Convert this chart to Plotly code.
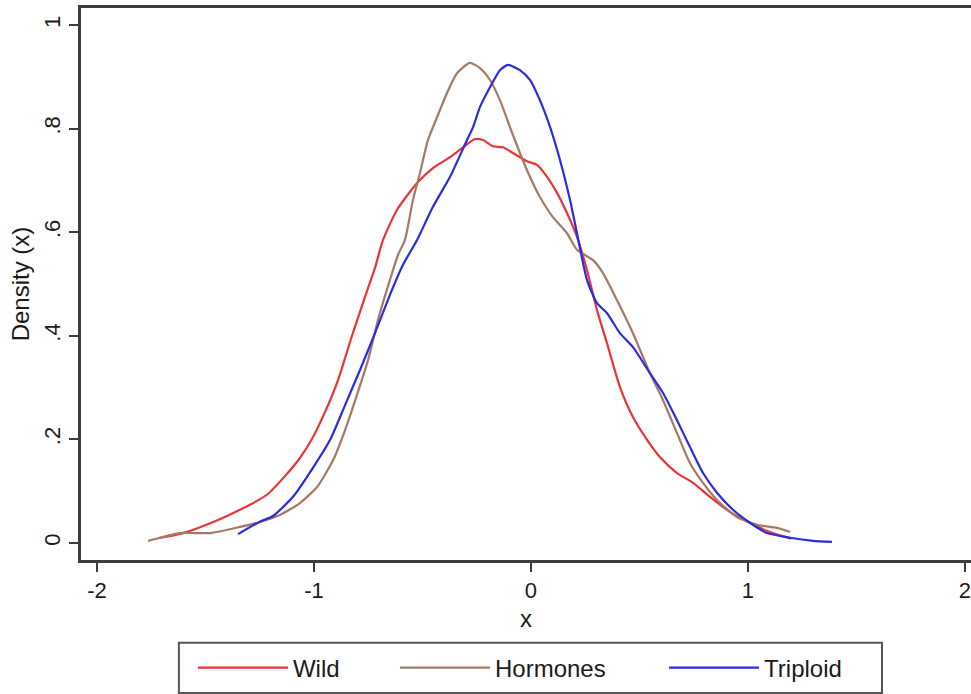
import plotly.graph_objects as go

# ---- data ----
wild_x = [-1.710, -1.604, -1.456, -1.341, -1.217, -1.134, -1.065, -1.009, -0.949, -0.889,
          -0.825, -0.765, -0.719, -0.682, -0.618, -0.525, -0.452, -0.373, -0.313, -0.258,
          -0.221, -0.175, -0.129, -0.083, -0.018, 0.028, 0.074, 0.120, 0.166, 0.212,
          0.258, 0.304, 0.350, 0.410, 0.470, 0.535, 0.594, 0.673, 0.747, 0.825,
          0.917, 1.009, 1.101, 1.198]
wild_y = [0.010, 0.019, 0.042, 0.064, 0.093, 0.129, 0.164, 0.201, 0.253, 0.315,
          0.400, 0.475, 0.531, 0.585, 0.643, 0.695, 0.724, 0.745, 0.764, 0.780,
          0.778, 0.766, 0.764, 0.753, 0.737, 0.730, 0.707, 0.676, 0.637, 0.591,
          0.527, 0.450, 0.386, 0.301, 0.243, 0.199, 0.166, 0.135, 0.116, 0.089,
          0.060, 0.039, 0.021, 0.008]

horm_x = [-1.765, -1.618, -1.479, -1.341, -1.263, -1.157, -1.065, -0.986, -0.912, -0.857,
          -0.802, -0.751, -0.705, -0.650, -0.613, -0.581, -0.544, -0.512, -0.475, -0.433,
          -0.387, -0.341, -0.281, -0.235, -0.189, -0.143, -0.097, -0.051, -0.005, 0.041,
          0.101, 0.166, 0.212, 0.286, 0.332, 0.396, 0.470, 0.548, 0.608, 0.673,
          0.733, 0.793, 0.857, 0.949, 1.041, 1.134, 1.194]
horm_y = [0.004, 0.019, 0.019, 0.031, 0.039, 0.054, 0.077, 0.108, 0.160, 0.218,
          0.286, 0.353, 0.431, 0.508, 0.556, 0.585, 0.662, 0.714, 0.778, 0.822,
          0.869, 0.907, 0.927, 0.917, 0.894, 0.855, 0.803, 0.753, 0.707, 0.668,
          0.629, 0.598, 0.566, 0.546, 0.521, 0.469, 0.405, 0.328, 0.276, 0.212,
          0.154, 0.116, 0.083, 0.050, 0.035, 0.029, 0.021]

trip_x = [-1.350, -1.249, -1.189, -1.097, -1.005, -0.926, -0.857, -0.788, -0.719, -0.650,
          -0.590, -0.525, -0.452, -0.373, -0.295, -0.267, -0.235, -0.189, -0.143, -0.106,
          -0.051, -0.005, 0.041, 0.088, 0.134, 0.180, 0.212, 0.258, 0.304, 0.350,
          0.410, 0.470, 0.548, 0.608, 0.673, 0.733, 0.793, 0.857, 0.931, 1.009,
          1.088, 1.194, 1.300, 1.387]
trip_y = [0.017, 0.041, 0.052, 0.089, 0.145, 0.199, 0.266, 0.334, 0.405, 0.479,
          0.537, 0.585, 0.649, 0.707, 0.778, 0.803, 0.842, 0.880, 0.913, 0.923,
          0.913, 0.894, 0.855, 0.803, 0.739, 0.662, 0.598, 0.508, 0.463, 0.444,
          0.405, 0.378, 0.328, 0.290, 0.237, 0.185, 0.135, 0.097, 0.064, 0.039,
          0.019, 0.010, 0.004, 0.002]

series_names = ["Wild", "Hormones", "Triploid"]
series_colors = ["#ea3438", "#a47a62", "#2b2be0"]

x_tickvals = [-2, -1, 0, 1, 2]
x_ticktext = ["-2", "-1", "0", "1", "2"]
y_tickvals = [0, 0.2, 0.4, 0.6, 0.8, 1.0]
y_ticktext = ["0", ".2", ".4", ".6", ".8", "1"]

FONT = "Liberation Sans, Arial, Helvetica, sans-serif"
AXC = "#3c3c3c"

legend_ids = ["legend", "legend2", "legend3"]
legend_x = [0.1258, 0.3528, 0.6551]

fig = go.Figure()
for xs, ys, name, col, lg in zip([wild_x, horm_x, trip_x], [wild_y, horm_y, trip_y],
                                 series_names, series_colors, legend_ids):
    fig.add_trace(go.Scatter(x=xs, y=ys, mode="lines", name=name, legend=lg,
                             line=dict(color=col, width=2.2, shape="spline", smoothing=0.6)))

leg_common = dict(orientation="h", xanchor="left", y=-0.155, yanchor="top",
                  borderwidth=0, bgcolor="rgba(0,0,0,0)",
                  font=dict(size=24, family=FONT, color="#1a1a1a"), itemwidth=90)

fig.update_layout(
    width=971, height=694,
    margin=dict(l=81, r=0, t=8, b=134),
    paper_bgcolor="white", plot_bgcolor="white",
    font=dict(family=FONT, color="#1a1a1a"),
    showlegend=True,
    legend=dict(x=legend_x[0], **leg_common),
    legend2=dict(x=legend_x[1], **leg_common),
    legend3=dict(x=legend_x[2], **leg_common),
    shapes=[dict(type="rect", xref="paper", yref="paper",
                 x0=0.110, x1=0.900, y0=-0.241, y1=-0.150,
                 line=dict(color="#555555", width=2), fillcolor="rgba(0,0,0,0)", layer="below")],
    xaxis=dict(range=[-2.074, 2.028], tickvals=x_tickvals, ticktext=x_ticktext,
               showgrid=False, zeroline=False, showline=True, linecolor=AXC, linewidth=3,
               mirror=True, ticks="outside", ticklen=9, tickwidth=2, tickcolor=AXC,
               ticklabeloverflow="allow",
               tickfont=dict(size=22, family=FONT, color="#1a1a1a"),
               title=dict(text="x", font=dict(size=24, family=FONT), standoff=8)),
    yaxis=dict(range=[-0.033, 1.033], tickvals=y_tickvals, ticktext=y_ticktext,
               showgrid=False, zeroline=False, showline=True, linecolor=AXC, linewidth=3,
               ticks="outside", ticklen=9, tickwidth=2, tickcolor=AXC, tickangle=-90,
               tickfont=dict(size=22, family=FONT, color="#1a1a1a"),
               title=dict(text="Density (x)", font=dict(size=24, family=FONT), standoff=4)),
)

fig.write_html("out.html")
